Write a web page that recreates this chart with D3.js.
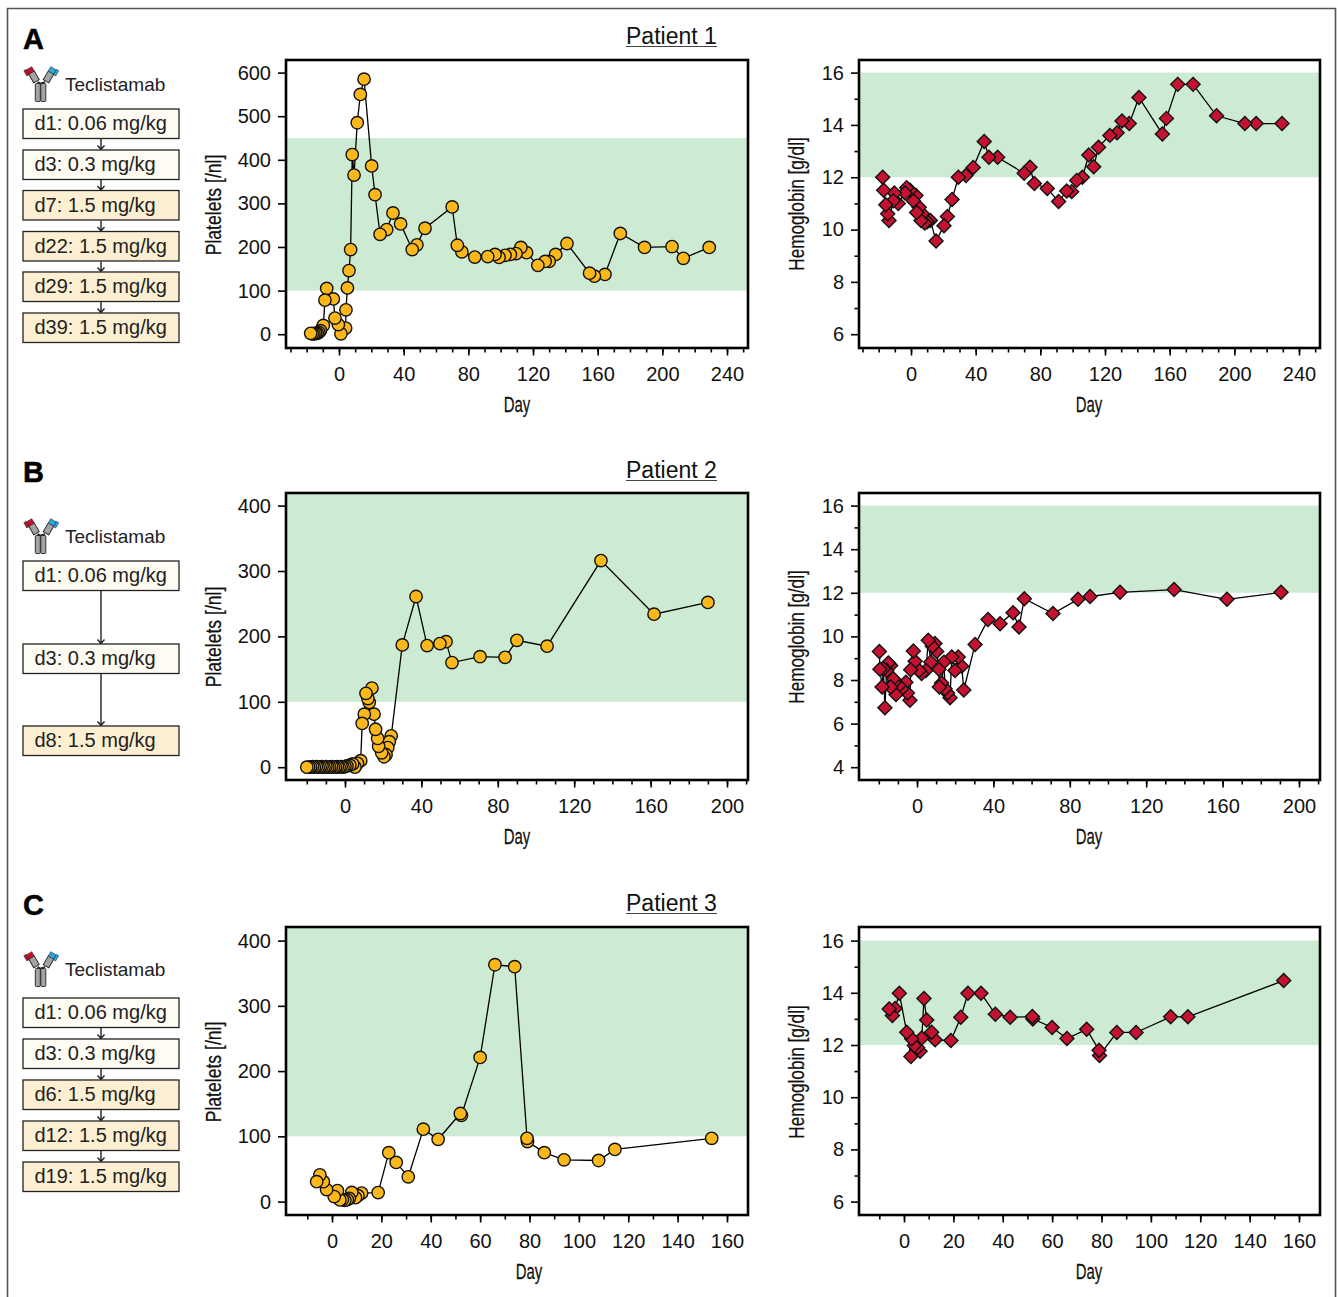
<!DOCTYPE html>
<html><head><meta charset="utf-8">
<style>html,body{margin:0;padding:0;background:#fff}svg{display:block}</style>
<script src="https://cdnjs.cloudflare.com/ajax/libs/d3/7.8.5/d3.min.js"></script>
</head><body><div id="c"></div>
<script>
// ---------- data ----------
const p1PltDay=[-17.5,-16.5,-15.5,-14.5,-13.5,-12.5,-11.5,-9.7,-8.7,-7.6,-3.5,-2.5,-0.4,1.2,4.1,4.3,5.2,6.2,7.2,8.2,9.3,11.3,13.2,15.5,20.2,22.3,25.4,29.5,33.4,38.1,45.3,48.2,53.2,70,73.2,76,84,92,96.5,99,102.7,106,109.5,112.5,116,123,127.5,130,134,141,155,158,164.5,174,189,206,213,229];
const p1PltVal=[2,1,1,2,2,4,8,20,78,105,81,37,22,1,14,56,106,146,194,412,365,485,550,585,386,320,229,240,278,253,194,205,243,292,204,189,177,178,183,176,181,183,185,199,187,158,167,167,183,208,140,133,137,231,199,201,174,199];
const p1HbDay=[-17.5,-16.9,-15.6,-14.4,-13.6,-11,-10.3,-7.9,-3.7,-2.7,-0.6,1.4,3.1,3.5,5.1,6.2,7,8.5,10,12,15.5,20.4,22.5,25.4,29.3,34,38.5,45.3,48.2,53.6,70,73.6,76.3,84.3,91.3,96.3,99.4,102.5,106,110,113,116,123,127.5,130.5,135,141,155.5,158,165,174.5,189,206.5,213.5,229.5];
const p1HbVal=[12,11.5,10.95,10.6,10.35,11.1,11.4,11,11.4,11.6,11.5,11.1,11.3,10.65,10.85,10.35,10.6,10.25,10.3,10.35,9.56,10.15,10.5,11.15,12,12.07,12.37,13.37,12.76,12.76,12.15,12.38,11.76,11.57,11.07,11.47,11.45,11.88,12,12.85,12.4,13.15,13.6,13.7,14.15,14.05,15.05,13.65,14.25,15.55,15.55,14.35,14.05,14.05,14.05];
const p2PltDay=[-20,-19,-18,-17,-16,-15,-14,-13,-12,-11,-10,-9,-8,-7,-6,-5,-4,-3,-2,-1,0,1,2.5,4,5.2,6.5,8.2,9,10.1,11,12,12.7,14.1,15.2,16,17.1,17.6,19.2,20.4,21.5,22.4,23.2,24.2,30,37.2,43,49.7,52.9,56,70.7,83.8,90,105.8,134,161.8,190];
const p2PltVal=[0,0,0,1,0,1,0,0,1,0,1,0,0,1,0,0,1,0,1,0,1,2,3,5,0,6,10,67,81,113,105,99,121,81,58,44,32,22,16,19,30,39,48,187,261,186,189,192,160,169,168,194,185,316,234,252];
const p2HbDay=[-19.7,-19.4,-18.3,-17.6,-16.8,-15.9,-15,-13.8,-13.8,-12.4,-12,-11,-9.5,-8,-5.8,-5,-3.7,-3.3,-1.9,-1,1.2,2.4,4.7,5.9,7.2,8,9.4,10.3,11.5,11.7,12.9,14.1,14.7,16,17.3,18.2,19.9,21.6,23.4,24.5,30.4,37.2,43.5,50.3,53.4,56.2,71.2,84.3,90.6,106.3,134.6,162.3,190.6];
const p2HbVal=[9.31,8.49,7.68,8.52,6.73,8.44,8.78,8.67,7.68,8.06,7.9,7.34,7.75,7.6,7.9,7.4,7.07,8.47,9.33,8.86,8.44,8.3,8.44,9.82,8.82,9.55,9.67,9.31,8.49,7.68,7.86,8.82,7.6,7.4,7.19,9.05,8.44,9.05,8.63,7.54,9.63,10.77,10.58,11.09,10.43,11.73,11.05,11.7,11.83,12.02,12.15,11.7,12.02];
const p3PltDay=[-6.2,-4.9,-3.5,-2.2,0.9,2.2,3.2,4.2,5.2,6.2,7,8,9.5,10.5,12,18.7,23,26,30.9,37,43,52,52.4,60,66,74,79,79.2,86,94,108,114.6,153.8];
const p3PltVal=[30.6,41,30.6,18.4,7.7,16.9,2.6,3,2,3,5,14,6,9,13,13.8,75,60,38,111,95.5,135,132,221,363,360,97,92,75,64,63,80,97];
const p3HbDay=[-6,-4.7,-3.6,-1.9,1.1,2.8,3.1,4.2,5.5,6.5,7.2,8.1,9.2,11.2,12.6,19,23,25.9,31.2,37,43,52,52.2,60,66,74,79,79.2,86.2,94,108,115,153.8];
const p3HbVal=[13.38,13.13,13.4,13.98,12.49,11.56,12.24,11.98,11.9,11.76,12.27,13.78,12.96,12.49,12.2,12.17,13.06,13.98,13.98,13.18,13.06,13.09,13,12.67,12.25,12.6,11.8,11.6,12.48,12.48,13.08,13.08,14.47];

const doseA=["d1: 0.06 mg/kg","d3: 0.3 mg/kg","d7: 1.5 mg/kg","d22: 1.5 mg/kg","d29: 1.5 mg/kg","d39: 1.5 mg/kg"];
const doseB=["d1: 0.06 mg/kg","d3: 0.3 mg/kg","d8: 1.5 mg/kg"];
const doseC=["d1: 0.06 mg/kg","d3: 0.3 mg/kg","d6: 1.5 mg/kg","d12: 1.5 mg/kg","d19: 1.5 mg/kg"];
const xMajorA=[0,40,80,120,160,200,240];
const xMajorB=[0,40,80,120,160,200];
const xMajorC=[0,20,40,60,80,100,120,140,160];
const pltTicksA=[0,100,200,300,400,500,600];
const pltTicksBC=[0,100,200,300,400];
const hbTicksAC=[6,8,10,12,14,16];
const hbTicksB=[4,6,8,10,12,14,16];

// ---------- layout ----------
const W=1338,H=1297;
const svg=d3.select("#c").append("svg").attr("width",W).attr("height",H);
const SANS="'Liberation Sans',Arial,sans-serif";
svg.append("path").attr("d",`M7.5,${H} V8.5 H1335.5 V${H}`).attr("fill","none").attr("stroke","#555").attr("stroke-width",1.6);

function narrowText(g,tx,ty,rot,sx,txt){
  g.append("text").attr("transform",`translate(${tx},${ty}) rotate(${rot}) scale(${sx},1)`)
    .attr("text-anchor","middle").attr("font-family",SANS).attr("font-size",22).attr("fill","#111")
    .attr("stroke","#111").attr("stroke-width",.25).text(txt);
}

function panel(o){
  const {x0,x1,y0,y1,xDom,yDom,band,xMajor,xMinorStep,yTicks,yMinor,xs,ys,kind,ylabel}=o;
  const x=d3.scaleLinear().domain(xDom).range([o.xa,o.xb]);
  const y=d3.scaleLinear().domain(yDom).range([o.ya,o.yb]);
  const g=svg.append("g");
  g.append("rect").attr("x",x0).attr("y",y(band[1])).attr("width",x1-x0).attr("height",y(band[0])-y(band[1])).attr("fill","#cdebd3");
  // ticks
  const xMin=d3.range(Math.ceil(x.invert(x0+3)/xMinorStep)*xMinorStep,x.invert(x1),xMinorStep);
  g.append("g").attr("transform",`translate(0,${y1})`).call(d3.axisBottom(x).tickValues(xMin).tickSize(4.5).tickFormat(""));
  g.append("g").attr("transform",`translate(0,${y1})`).call(d3.axisBottom(x).tickValues(xMajor).tickSize(7.5).tickPadding(11));
  g.append("g").attr("transform",`translate(${x0},0)`).call(d3.axisLeft(y).tickValues(yTicks).tickSize(8).tickPadding(7));
  if(yMinor){g.append("g").attr("transform",`translate(${x0},0)`).call(d3.axisLeft(y).tickValues(yMinor).tickSize(4.5).tickFormat(""));}
  g.selectAll(".domain").remove();
  g.selectAll(".tick line").attr("stroke","#000").attr("stroke-width",1.6);
  g.selectAll(".tick text").attr("font-family",SANS).attr("font-size",20).attr("fill","#111");
  // data
  const pts=xs.map((d,i)=>[d,ys[i]]);
  g.append("path").datum(pts).attr("fill","none").attr("stroke","#000").attr("stroke-width",1.3)
    .attr("d",d3.line().x(d=>x(d[0])).y(d=>y(d[1])));
  const rev=pts.slice().reverse();
  if(kind==="circle"){
    g.selectAll("circle.m").data(rev).join("circle").attr("cx",d=>x(d[0])).attr("cy",d=>y(d[1])).attr("r",6.2)
      .attr("fill","#fcb81a").attr("stroke","#111").attr("stroke-width",1.4);
  }else{
    g.selectAll("path.m").data(rev).join("path").attr("d","M0,-7 L7,0 L0,7 L-7,0Z")
      .attr("transform",d=>`translate(${x(d[0])},${y(d[1])})`)
      .attr("fill","#c41230").attr("stroke","#111").attr("stroke-width",1.4);
  }
  // frame
  g.append("rect").attr("x",x0).attr("y",y0).attr("width",x1-x0).attr("height",y1-y0).attr("fill","none").attr("stroke","#000").attr("stroke-width",2.6);
  // titles
  narrowText(g,o.xtx,y1+64,0,.68,"Day");
  narrowText(g,o.ytx,o.ytcy,-90,ylabel[0]==="H"?.78:.8,ylabel);
}

function schedule(letter,ly,tecY,doses,boxYs,title,titleY){
  svg.append("text").attr("x",23).attr("y",ly).attr("font-family",SANS).attr("font-weight","bold").attr("font-size",29).attr("fill","#000").attr("stroke","#000").attr("stroke-width",.5).text(letter);
  svg.append("text").attr("x",626).attr("y",titleY).attr("font-family",SANS).attr("font-size",23).attr("fill","#111").text(title);
  svg.append("line").attr("x1",626).attr("x2",717).attr("y1",titleY+2.5).attr("y2",titleY+2.5).attr("stroke","#444").attr("stroke-width",1.2);
  // antibody icon
  const ic=svg.append("g").attr("transform",`translate(23,${tecY-25})`);
  const grey="#a3a3a3",ink="#222";
  ic.append("rect").attr("x",12.3).attr("y",17.5).attr("width",5).attr("height",18).attr("rx",1).attr("fill",grey).attr("stroke",ink).attr("stroke-width",.9);
  ic.append("rect").attr("x",17.8).attr("y",17.5).attr("width",5).attr("height",18).attr("rx",1).attr("fill",grey).attr("stroke",ink).attr("stroke-width",.9);
  const arm=(tx,ang,col,side)=>{
    const a=ic.append("g").attr("transform",`translate(${tx},17) rotate(${ang})`);
    a.append("rect").attr("x",-3.2).attr("y",-12).attr("width",6.4).attr("height",10).attr("fill",grey).attr("stroke",ink).attr("stroke-width",.9);
    a.append("rect").attr("x",-3.2).attr("y",-17).attr("width",6.4).attr("height",5).attr("fill",col).attr("stroke",ink).attr("stroke-width",.5);
    a.append("rect").attr("x",side>0?3.2:-5.7).attr("y",-17.5).attr("width",2.5).attr("height",6).attr("fill",col).attr("stroke",ink).attr("stroke-width",.5);
  };
  arm(14.5,-30,"#c8102e",-1);arm(22,30,"#2ba6de",1);
  ic.append("path").attr("d","M14.5,16 L17.5,17.5 L22,16").attr("fill","none").attr("stroke",ink).attr("stroke-width",1.8);
  svg.append("text").attr("x",65).attr("y",tecY).attr("font-family",SANS).attr("font-size",19).attr("fill","#222").text("Teclistamab");
  // arrows
  for(let i=0;i<boxYs.length-1;i++){
    const a=boxYs[i]+30,b=boxYs[i+1];
    svg.append("path").attr("d",`M101,${a} V${b-1} M97.5,${b-4.5} L101,${b-.5} L104.5,${b-4.5}`).attr("fill","none").attr("stroke","#222").attr("stroke-width",1.4);
  }
  doses.forEach((t,i)=>{
    const high=t.includes("1.5");
    svg.append("rect").attr("x",23).attr("y",boxYs[i]).attr("width",156).attr("height",29.5).attr("fill",high?"#fdf0d2":"#fefbf3").attr("stroke","#222").attr("stroke-width",1.3);
    svg.append("text").attr("x",34.5).attr("y",boxYs[i]+21).attr("font-family",SANS).attr("font-size",20).attr("fill","#222").text(t);
  });
}

schedule("A",49,91,doseA,[109,150,190.5,231.5,272,313],"Patient 1",44);
schedule("B",482,543,doseB,[561,644,726],"Patient 2",478);
schedule("C",915,976,doseC,[998,1039,1080,1121,1162],"Patient 3",911);

const L={x0:286,x1:748}, R={x0:859,x1:1320};
const band=[100,450];
panel({...L,y0:60,y1:348,xa:339,xb:727,xDom:[0,240],ya:334.2,yb:72.6,yDom:[0,600],band,xMajor:xMajorA,xMinorStep:10,yTicks:pltTicksA,xs:p1PltDay,ys:p1PltVal,kind:"circle",ylabel:"Platelets [/nl]",xtx:517,ytx:221,ytcy:205});
panel({...R,y0:60,y1:348,xa:911,xb:1299,xDom:[0,240],ya:334.2,yb:72.6,yDom:[6,16],band:[12,16],xMajor:xMajorA,xMinorStep:10,yTicks:hbTicksAC,yMinor:[7,9,11,13,15],xs:p1HbDay,ys:p1HbVal,kind:"diamond",ylabel:"Hemoglobin [g/dl]",xtx:1089,ytx:804,ytcy:204});
panel({...L,y0:493,y1:780,xa:345,xb:727,xDom:[0,200],ya:767.2,yb:505.6,yDom:[0,400],band:[100,420],xMajor:xMajorB,xMinorStep:10,yTicks:pltTicksBC,xs:p2PltDay,ys:p2PltVal,kind:"circle",ylabel:"Platelets [/nl]",xtx:517,ytx:221,ytcy:637});
panel({...R,y0:493,y1:780,xa:917,xb:1299,xDom:[0,200],ya:767.2,yb:505.6,yDom:[4,16],band:[12,16],xMajor:xMajorB,xMinorStep:10,yTicks:hbTicksB,yMinor:[5,7,9,11,13,15],xs:p2HbDay,ys:p2HbVal,kind:"diamond",ylabel:"Hemoglobin [g/dl]",xtx:1089,ytx:804,ytcy:637});
panel({...L,y0:927,y1:1215,xa:332,xb:727,xDom:[0,160],ya:1201.6,yb:940.6,yDom:[0,400],band:[100,420],xMajor:xMajorC,xMinorStep:10,yTicks:pltTicksBC,xs:p3PltDay,ys:p3PltVal,kind:"circle",ylabel:"Platelets [/nl]",xtx:529,ytx:221,ytcy:1072});
panel({...R,y0:927,y1:1215,xa:904,xb:1299,xDom:[0,160],ya:1201.6,yb:940.6,yDom:[6,16],band:[12,16],xMajor:xMajorC,xMinorStep:10,yTicks:hbTicksAC,yMinor:[7,9,11,13,15],xs:p3HbDay,ys:p3HbVal,kind:"diamond",ylabel:"Hemoglobin [g/dl]",xtx:1089,ytx:804,ytcy:1072});
</script></body></html>
